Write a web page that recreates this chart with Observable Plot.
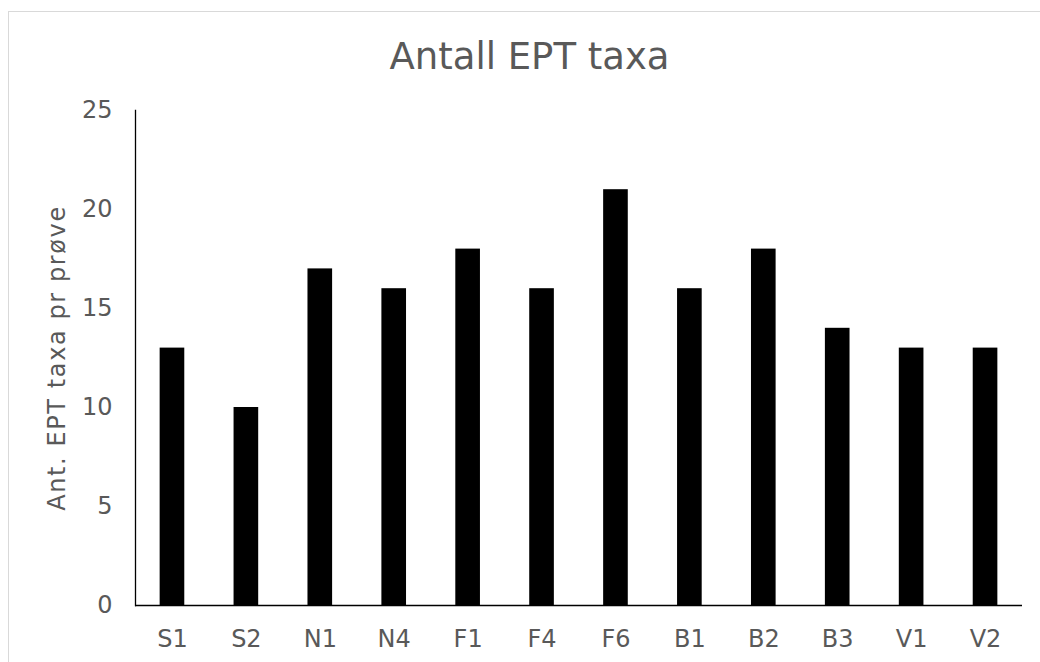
<!DOCTYPE html>
<html>
<head>
<meta charset="utf-8">
<script src="https://cdn.jsdelivr.net/npm/d3@7"></script>
<script src="https://cdn.jsdelivr.net/npm/@observablehq/plot@0.6"></script>
<style>
  html, body { margin: 0; padding: 0; background: #fff; }
  #wrap { position: relative; width: 1040px; height: 662px; overflow: hidden; background: #fff; }
  #border { position: absolute; left: 8px; top: 11px; width: 1100px; height: 700px; border: 1.5px solid #d9d9d9; box-sizing: border-box; }
  #title { position: absolute; left: 0; top: 38px; width: 1059px; text-align: center;
           font-family: "DejaVu Sans", sans-serif; font-size: 37px; line-height: 37px; color: #595959; }
  #chart { position: absolute; left: 0; top: 0; }
</style>
</head>
<body>
<div id="wrap">
  <div id="border"></div>
  <div id="chart"></div>
  <div id="title">Antall EPT taxa</div>
</div>
<script>
const sites = ["S1", "S2", "N1", "N4", "F1", "F4", "F6", "B1", "B2", "B3", "V1", "V2"];
const eptCounts = [13, 10, 17, 16, 18, 16, 21, 16, 18, 14, 13, 13];
const yTicks = [0, 5, 10, 15, 20, 25];
const yLabel = "Ant. EPT taxa pr prøve";

const data = sites.map((s, i) => ({site: s, value: eptCounts[i]}));

const chart = Plot.plot({
  width: 1040,
  height: 662,
  marginLeft: 135,
  marginRight: 18,
  marginTop: 110,
  marginBottom: 57,
  style: {fontFamily: "DejaVu Sans, sans-serif", fontSize: "24px", color: "#595959", background: "transparent", overflow: "visible"},
  x: {domain: sites, paddingInner: 2/3, paddingOuter: 1/3, round: false, label: null},
  y: {domain: [0, 25], label: null},
  marks: [
    Plot.barY(data, {x: "site", y: "value", fill: "#000"}),
    Plot.axisX({tickSize: 0, tickPadding: 24, label: null, fontSize: 24, fill: "#595959"}),
    Plot.axisY({ticks: yTicks, tickSize: 0, tickPadding: 23, label: null, fontSize: 24, fill: "#595959"}),
    Plot.axisY({ticks: [], tickSize: 0, label: yLabel, labelAnchor: "center", labelArrow: "none", labelOffset: 88,
                fontSize: 24, fill: "#595959"}),
    Plot.frame({anchor: "left", stroke: "#000", strokeWidth: 1.3}),
    Plot.ruleY([0], {stroke: "#000", strokeWidth: 1.3})
  ]
});
d3.select(chart).selectAll("text").filter(function() { return this.textContent === yLabel; })
  .style("letter-spacing", "1.6px");
document.getElementById("chart").appendChild(chart);
</script>
</body>
</html>
